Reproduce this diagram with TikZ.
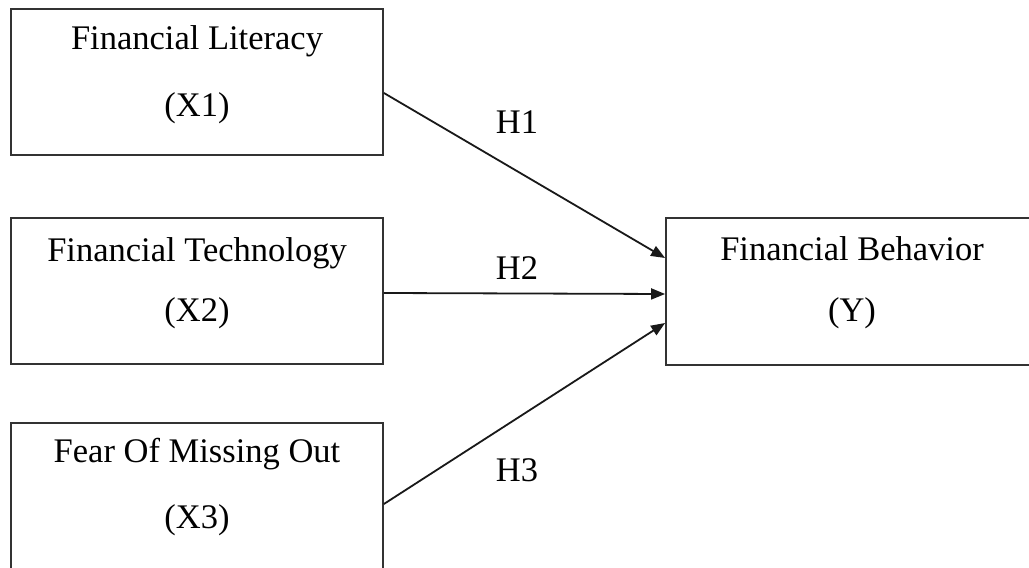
\documentclass[tikz,border=0pt]{standalone}
\usepackage{fontspec}
\setmainfont{Liberation Serif}
\usetikzlibrary{arrows.meta,calc}
\begin{document}
\begin{tikzpicture}[x=1pt,y=1pt,
  box/.style={draw=black!80,line width=1.8pt,minimum width=372pt,minimum height=146pt,inner sep=0pt},
  lbl/.style={font=\fontsize{34.5}{38}\selectfont,inner sep=0pt},
  link/.style={draw=black!90,line width=1.8pt,-{Triangle[length=14pt,width=11pt]}}]
\useasboundingbox (0,0) rectangle (1029,568);
\clip (0,0) rectangle (1029,568);
\fill[white] (0,0) rectangle (1029,568);
% boxes
\node[box] (x1) at (197,486) {};
\node[box] (x2) at (197,277) {};
\node[box,minimum height=152pt] (x3) at (197,69) {};
\node[box,minimum width=376pt,minimum height=147pt] (y) at (854,276.5) {};
% texts
\node[lbl] (t1a) at (197,527) {Financial Literacy};
\node[lbl] (t1b) at (197,460) {(X1)};
\node[lbl] (t2a) at (197,315) {Financial Technology};
\node[lbl] (t2b) at (197,255) {(X2)};
\node[lbl] (t3a) at (197,114) {Fear Of Missing Out};
\node[lbl] (t3b) at (197,48) {(X3)};
\node[lbl] (tya) at (852,319) {Financial Behavior};
\node[lbl] (tyb) at (852,255) {(Y)};
% connectors
\coordinate (s1) at ($(x1.east)+(0,-11)$);
\coordinate (s2) at ($(x2.east)+(0,-2)$);
\coordinate (s3) at ($(x3.east)+(0,-5)$);
\coordinate (e1) at ($(y.west)+(0,33.5)$);
\coordinate (e2) at ($(y.west)+(0,-2.5)$);
\coordinate (e3) at ($(y.west)+(0,-31.5)$);
\draw[link] (s1) -- (e1);
\draw[link] (s2) -- (e2);
\draw[link] (s3) -- (e3);
\node[lbl] (h1) at (517,446) {H1};
\node[lbl] (h2) at (517,300) {H2};
\node[lbl] (h3) at (517,98) {H3};
\end{tikzpicture}
\end{document}
